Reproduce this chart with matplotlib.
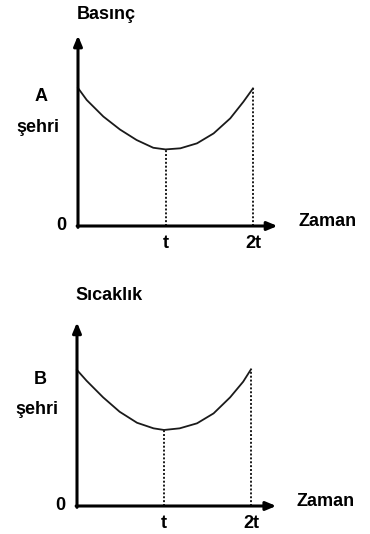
import matplotlib
matplotlib.use("Agg")
import matplotlib.pyplot as plt

plt.rcParams['font.family'] = ['Liberation Sans', 'DejaVu Sans']

# curves (time in units of t, value relative to start)
time_a = [0.0, 0.1, 0.29, 0.48, 0.67, 0.86, 1.0, 1.17, 1.36, 1.55, 1.74, 1.89, 2.0]
basinc_a = [1.0, 0.913, 0.793, 0.699, 0.623, 0.567, 0.555, 0.563, 0.599, 0.671, 0.78, 0.9, 0.997]

time_b = [0.0, 0.11, 0.3, 0.49, 0.69, 0.88, 1.0, 1.18, 1.38, 1.57, 1.76, 1.91, 2.0]
sicaklik_b = [1.0, 0.921, 0.799, 0.693, 0.612, 0.571, 0.559, 0.571, 0.608, 0.681, 0.799, 0.914, 1.005]

tick_pos = [1.0, 2.0]
tick_labels = ['t', '2t']

W, H = 370, 534
fig = plt.figure(figsize=(W / 100, H / 100), dpi=100)


def panel(x0, y0, ux, uy, xs, ys, ylabel, city, xarrow, yarrow, ylab_y, city_y):
    # x0, y0: origin in pixels (from top-left); ux, uy: pixels per data unit
    ax = fig.add_axes([x0 / W, (H - y0) / H, 2.3 * ux / W, 1.4 * uy / H])
    ax.set_xlim(0, 2.3)
    ax.set_ylim(0, 1.4)
    ax.axis('off')

    arrow = dict(arrowstyle='-|>,head_length=0.6,head_width=0.25', lw=2.2,
                 color='black', shrinkA=0, shrinkB=0)
    ax.annotate('', xy=(xarrow, 0), xytext=(-0.01, 0), arrowprops=arrow,
                annotation_clip=False)
    ax.annotate('', xy=(0, yarrow), xytext=(0, -0.01), arrowprops=arrow,
                annotation_clip=False)

    ax.plot(xs, ys, color='#1a1a1a', lw=1.3, clip_on=False,
            solid_joinstyle='round')
    for tp in tick_pos:
        yv = ys[xs.index(tp)]
        ax.plot([tp, tp], [0, yv], color='#1a1a1a', lw=1.4, ls=(0, (1.0, 1.0)))

    bold = dict(fontsize=13, fontweight='bold', clip_on=False)
    ax.text(-0.02, ylab_y, ylabel, ha='left', va='center', **bold)
    ax.text(-0.42, city_y, city, ha='center', va='center', **bold)
    ax.text(-0.46, city_y - 0.22, 'şehri', ha='center', va='center', **bold)
    ax.text(-0.19, 0.0, '0', ha='center', va='center', **bold)
    ax.text(2.52, 0.03, 'Zaman', ha='left', va='center', **bold)
    for tp, lab in zip(tick_pos, tick_labels):
        ax.text(tp, -0.13, lab, ha='center', va='center', **bold)
    return ax


panel(78, 226, 87.5, 138, time_a, basinc_a, 'Basınç', 'A', 2.28, 1.38, 1.53, 0.935)
panel(77, 506, 87, 136, time_b, sicaklik_b, 'Sıcaklık', 'B', 2.29, 1.35, 1.55, 0.93)

fig.savefig('out.png', dpi=100, facecolor='white')
